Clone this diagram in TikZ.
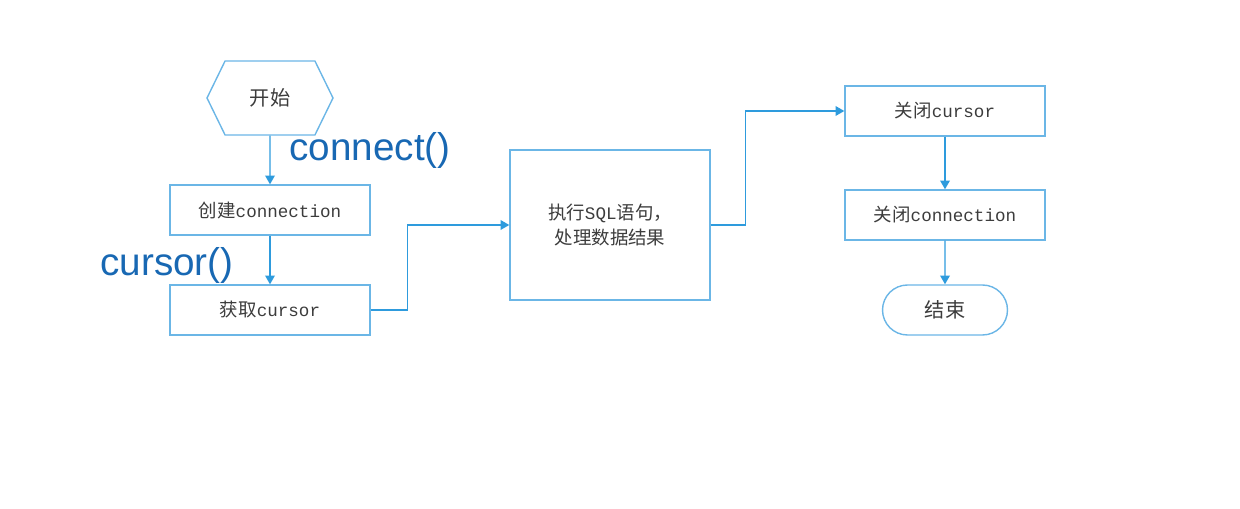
\documentclass[tikz,border=0pt]{standalone}
\usepackage{fontspec}
\usepackage{xcolor}
\usepackage{tikz}
\usetikzlibrary{arrows.meta,shapes.symbols,shapes.misc}
\setmainfont{Liberation Sans}
\newfontfamily\cjk{Noto Sans CJK SC}
\newfontfamily\lat{Liberation Mono}
\definecolor{edge}{HTML}{6BB6E6}
\definecolor{flowc}{HTML}{2E9BDD}
\definecolor{ink}{HTML}{3C3C3C}
\definecolor{callc}{HTML}{1868B3}
\tikzset{
  box/.style={rectangle, draw=edge, line width=0.8pt, minimum width=4cm, minimum height=1cm,
    text=ink, font=\cjk\fontsize{10.5}{14}\selectfont, inner sep=0pt, align=center},
  startbox/.style={signal, signal to=west and east, signal pointer angle=128, draw=edge,
    line width=0.8pt, minimum width=2.52cm, minimum height=1.48cm, inner sep=0pt,
    text=ink, font=\cjk\fontsize{11.5}{13}\selectfont},
  endbox/.style={rounded rectangle, draw=edge, line width=0.8pt, minimum width=2.5cm,
    minimum height=1cm, inner sep=0pt, text=ink, font=\cjk\fontsize{11.5}{13}\selectfont},
  flow/.style={-{Triangle[length=5pt,width=5.5pt]}, line width=0.8pt, draw=flowc},
  call/.style={text=callc, font=\fontsize{22}{24}\selectfont, inner sep=0pt}
}
\newcommand{\en}[1]{{\lat\fontsize{10}{12}\selectfont #1}}

\begin{document}
\begin{tikzpicture}[x=0.02cm, y=-0.02cm]
  \useasboundingbox (0,0) rectangle (1240,509);

  % left column
  \node[startbox] (start) at (270,98) {开始};
  \node[box] (conn) at (270,210) {创建\en{connection}};
  \node[box] (getcur) at (270,310) {获取\en{cursor}};
  \draw[flow] (start) -- (conn);
  \draw[flow] (conn) -- (getcur);
  \node[call] (lconn) at (370,151) {connect()};
  \node[call] (lcur) at (167,266) {cursor()};

  % middle
  \node[box, minimum height=3cm] (exec) at (610,225) {执行\en{SQL}语句，\\ 处理数据结果};
  \draw[flow] (getcur.east) -- ++(37,0) |- (exec.west);

  % right column
  \node[box] (closecur) at (945,111) {关闭\en{cursor}};
  \node[box] (closeconn) at (945,215) {关闭\en{connection}};
  \node[endbox] (stop) at (945,310) {结束};
  \draw[flow] (exec.east) -- ++(35,0) |- (closecur.west);
  \draw[flow] (closecur) -- (closeconn);
  \draw[flow] (closeconn) -- (stop);
\end{tikzpicture}
\end{document}
